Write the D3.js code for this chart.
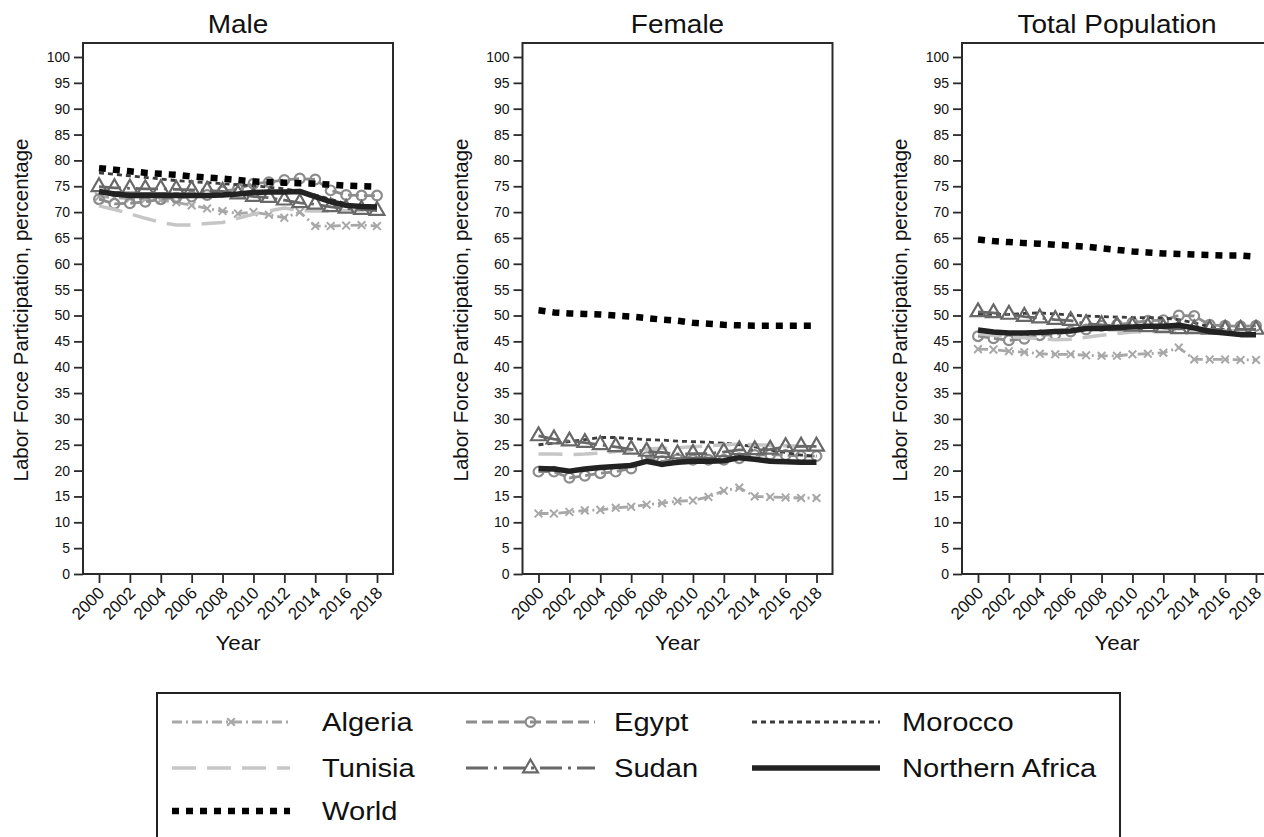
<html lang="en">
<head>
<meta charset="utf-8">
<title>Labor Force Participation</title>
<script src="https://d3js.org/d3.v7.min.js"></script>
<style>
  body { margin: 0; background: #fff; }
  text { font-family: "Liberation Sans", Arial, Helvetica, sans-serif; fill: #111; }
  .tick text { font-size: 14px; }
  .xaxis .tick text { font-size: 17px; }
  .title { font-size: 25px; }
  .label { font-size: 20px; }
  .ylabel { font-size: 20.5px; }
  .legend text { font-size: 26px; }
</style>
</head>
<body>
<script>
// categories / ticks
var years = [2000, 2001, 2002, 2003, 2004, 2005, 2006, 2007, 2008, 2009,
             2010, 2011, 2012, 2013, 2014, 2015, 2016, 2017, 2018];
var xTicks = [2000, 2002, 2004, 2006, 2008, 2010, 2012, 2014, 2016, 2018];
var yTicks = [0, 5, 10, 15, 20, 25, 30, 35, 40, 45, 50, 55, 60, 65, 70, 75, 80, 85, 90, 95, 100];
var panelTitles = ["Male", "Female", "Total Population"];
var yLabel = "Labor Force Participation, percentage";
var xLabel = "Year";

// Male
var maleAlgeria  = [73.0, 72.8, 72.6, 72.5, 72.3, 71.9, 71.3, 70.7, 70.2, 69.7, 70.0, 69.5, 68.9, 70.0, 67.3, 67.3, 67.4, 67.5, 67.3];
var maleEgypt    = [72.5, 71.6, 71.7, 72.0, 72.5, 72.8, 73.0, 73.3, 74.0, 74.5, 75.5, 75.8, 76.2, 76.5, 76.3, 74.2, 73.3, 73.2, 73.2];
var maleMorocco  = [77.6, 77.3, 77.0, 76.7, 76.4, 76.1, 75.9, 75.7, 75.5, 75.3, 75.1, 74.8, 74.5, 74.0, 73.3, 72.5, 71.6, 71.0, 70.6];
var maleTunisia  = [71.2, 70.5, 69.7, 68.8, 68.0, 67.5, 67.5, 67.8, 68.0, 68.8, 69.6, 70.2, 70.8, 70.3, 70.2, 70.2, 70.3, 70.4, 70.5];
var maleSudan    = [74.9, 74.7, 74.6, 74.5, 74.5, 74.4, 74.3, 74.2, 74.0, 73.5, 73.0, 72.8, 72.3, 71.8, 71.5, 71.0, 70.7, 70.5, 70.3];
var maleNAfrica  = [74.0, 73.5, 73.2, 73.2, 73.2, 73.2, 73.2, 73.2, 73.3, 73.5, 73.8, 73.9, 73.9, 74.0, 73.0, 72.0, 71.3, 71.1, 71.0];
var maleWorld    = [78.5, 78.2, 77.9, 77.6, 77.4, 77.2, 76.9, 76.7, 76.5, 76.2, 75.9, 75.8, 75.7, 75.6, 75.5, 75.3, 75.1, 75.0, 74.9];

// Female
var femaleAlgeria = [11.7, 11.7, 12.0, 12.3, 12.4, 12.8, 13.0, 13.4, 13.7, 14.1, 14.2, 14.9, 16.1, 16.7, 15.0, 14.9, 14.8, 14.7, 14.7];
var femaleEgypt   = [19.8, 19.8, 18.6, 19.0, 19.5, 19.8, 20.4, 22.6, 21.8, 22.2, 22.1, 22.1, 22.1, 22.4, 23.0, 23.1, 23.0, 22.8, 22.8];
var femaleMorocco = [25.0, 25.3, 25.6, 26.0, 26.4, 26.4, 26.2, 26.0, 25.9, 25.7, 25.6, 25.5, 25.3, 25.0, 24.6, 24.0, 23.5, 23.0, 22.8];
var femaleTunisia = [23.2, 23.2, 23.1, 23.2, 23.4, 23.7, 24.0, 24.2, 24.3, 24.4, 24.6, 24.8, 25.0, 25.1, 25.0, 24.9, 24.8, 24.7, 24.6];
var femaleSudan   = [26.7, 26.1, 25.7, 25.4, 25.0, 24.6, 24.1, 23.7, 23.5, 23.2, 23.3, 23.3, 23.6, 24.0, 24.0, 24.1, 24.6, 24.7, 24.7];
var femaleNAfrica = [20.4, 20.3, 19.9, 20.3, 20.6, 20.8, 21.0, 21.8, 21.2, 21.6, 21.8, 21.8, 21.9, 22.5, 22.2, 21.8, 21.7, 21.6, 21.6];
var femaleWorld   = [51.0, 50.6, 50.4, 50.3, 50.2, 50.0, 49.8, 49.5, 49.2, 49.0, 48.6, 48.4, 48.2, 48.1, 48.0, 48.0, 48.0, 48.0, 48.0];

// Total population
var totalAlgeria = [43.5, 43.4, 43.1, 42.9, 42.6, 42.5, 42.5, 42.3, 42.2, 42.2, 42.5, 42.6, 42.8, 43.8, 41.5, 41.5, 41.5, 41.4, 41.4];
var totalEgypt   = [46.0, 45.6, 45.2, 45.5, 46.2, 46.3, 46.9, 47.3, 48.0, 48.2, 48.6, 49.0, 49.1, 50.0, 49.9, 48.2, 48.0, 47.9, 48.0];
var totalMorocco = [50.3, 50.2, 50.2, 50.4, 50.5, 50.3, 50.1, 49.9, 49.8, 49.7, 49.6, 49.6, 49.5, 49.2, 48.6, 47.8, 47.2, 46.8, 46.6];
var totalTunisia = [46.5, 46.2, 45.9, 45.7, 45.5, 45.3, 45.4, 45.8, 46.2, 46.5, 46.8, 46.9, 47.0, 47.2, 47.0, 47.0, 47.0, 47.0, 47.0];
var totalSudan   = [50.7, 50.5, 50.2, 49.8, 49.5, 49.2, 49.0, 48.4, 48.2, 48.0, 47.9, 47.8, 47.6, 47.4, 47.4, 47.3, 47.3, 47.3, 47.3];
var totalNAfrica = [47.2, 46.8, 46.6, 46.6, 46.7, 46.9, 47.0, 47.5, 47.5, 47.7, 47.8, 47.9, 47.9, 48.1, 47.6, 46.9, 46.6, 46.3, 46.3];
var totalWorld   = [64.7, 64.4, 64.2, 64.0, 63.9, 63.7, 63.5, 63.3, 63.0, 62.7, 62.4, 62.2, 62.0, 61.9, 61.8, 61.7, 61.6, 61.6, 61.4];

// series styles (drawing order)
var seriesStyle = [
  { name: "Algeria",         color: "#a8a8a8", width: 2.8, dash: "10,4,2,4",  marker: "x" },
  { name: "Egypt",           color: "#8c8c8c", width: 2.8, dash: "11,5",      marker: "circle" },
  { name: "Morocco",         color: "#3c3c3c", width: 2.8, dash: "5,4",       marker: null },
  { name: "Tunisia",         color: "#c6c6c6", width: 3.5, dash: "24,11",     marker: null },
  { name: "Sudan",           color: "#686868", width: 2.8, dash: "22,6,3,6",  marker: "triangle" },
  { name: "Northern Africa", color: "#222222", width: 5.5, dash: null,        marker: null },
  { name: "World",           color: "#000000", width: 6.5, dash: "7,7",       marker: null }
];

var panels = [
  { title: panelTitles[0], values: [maleAlgeria, maleEgypt, maleMorocco, maleTunisia, maleSudan, maleNAfrica, maleWorld] },
  { title: panelTitles[1], values: [femaleAlgeria, femaleEgypt, femaleMorocco, femaleTunisia, femaleSudan, femaleNAfrica, femaleWorld] },
  { title: panelTitles[2], values: [totalAlgeria, totalEgypt, totalMorocco, totalTunisia, totalSudan, totalNAfrica, totalWorld] }
];

var W = 1264, H = 837;
var svg = d3.select("body").append("svg")
  .attr("width", W)
  .attr("height", H);

var frameTop = 43, frameBottom = 574, frameW = 310;
var sx = 1.12; // the original text is a bit wide

var y = d3.scaleLinear().domain([0, 100]).range([574, 57]);

function markerPath(type) {
  if (type == "circle") return d3.symbol(d3.symbolCircle, 75)();
  if (type == "triangle") return d3.symbol(d3.symbolTriangle, 95)();
  if (type == "x") return d3.symbol(d3.symbolX, 40)();
  return null;
}

panels.forEach(function(p, i) {
  var left = 83 + i * 439.5;
  var g = svg.append("g");

  var x = d3.scaleLinear().domain([2000, 2018]).range([left + 16, left + 294]);

  // frame
  g.append("rect")
    .attr("x", left).attr("y", frameTop)
    .attr("width", frameW).attr("height", frameBottom - frameTop)
    .attr("fill", "none").attr("stroke", "#2a2a2a").attr("stroke-width", 2);

  // y axis
  var ya = g.append("g")
    .attr("transform", "translate(" + left + ",0)")
    .call(d3.axisLeft(y).tickValues(yTicks).tickSize(9).tickPadding(4).tickSizeOuter(0));
  ya.select(".domain").remove();
  ya.selectAll(".tick line").attr("stroke", "#2a2a2a").attr("stroke-width", 1.8);

  // x axis
  var xa = g.append("g")
    .attr("class", "xaxis")
    .attr("transform", "translate(0," + frameBottom + ")")
    .call(d3.axisBottom(x).tickValues(xTicks).tickSize(9).tickSizeOuter(0).tickFormat(d3.format("d")));
  xa.select(".domain").remove();
  xa.selectAll(".tick line").attr("stroke", "#2a2a2a").attr("stroke-width", 1.8);
  xa.selectAll(".tick text")
    .attr("y", 0).attr("dy", 0)
    .attr("transform", "translate(6,20) rotate(-45)")
    .style("text-anchor", "end");

  // titles and labels
  g.append("text").attr("class", "title")
    .attr("transform", "translate(" + (left + frameW / 2) + ",33) scale(" + sx + ",1)")
    .style("text-anchor", "middle").text(p.title);

  g.append("text").attr("class", "label")
    .attr("transform", "translate(" + (left + frameW / 2) + ",650) scale(" + sx + ",1)")
    .style("text-anchor", "middle").text(xLabel);

  g.append("text").attr("class", "ylabel")
    .attr("transform", "translate(" + (left - 55) + "," + 310 + ") rotate(-90)")
    .style("text-anchor", "middle").text(yLabel);

  // lines
  var line = d3.line()
    .x(function(d, k) { return x(years[k]); })
    .y(function(d) { return y(d); });

  seriesStyle.forEach(function(s, j) {
    var vals = p.values[j];
    g.append("path")
      .datum(vals)
      .attr("d", line)
      .attr("fill", "none")
      .attr("stroke", s.color)
      .attr("stroke-width", s.width)
      .attr("stroke-dasharray", s.dash)
      .attr("stroke-linejoin", "round");

    if (s.marker) {
      g.selectAll(null)
        .data(vals)
        .enter()
        .append("path")
        .attr("d", markerPath(s.marker))
        .attr("transform", function(d, k) { return "translate(" + x(years[k]) + "," + y(d) + ")"; })
        .attr("fill", "none")
        .attr("stroke", s.color)
        .attr("stroke-width", s.marker == "x" ? 2 : 2.2);
    }
  });
});

// legend
var legend = svg.append("g").attr("class", "legend");
legend.append("rect")
  .attr("x", 157).attr("y", 693)
  .attr("width", 963).attr("height", 170)
  .attr("fill", "none").attr("stroke", "#222").attr("stroke-width", 2);

var legRows = [722, 768, 811];
var legCols = [{ x0: 172, x1: 290, tx: 322 }, { x0: 466, x1: 595, tx: 614 }, { x0: 752, x1: 880, tx: 902 }];
var legOrder = ["Algeria", "Egypt", "Morocco", "Tunisia", "Sudan", "Northern Africa", "World"];

legOrder.forEach(function(name, k) {
  var s = seriesStyle.filter(function(d) { return d.name == name; })[0];
  var c = legCols[k % 3], ry = legRows[Math.floor(k / 3)];
  legend.append("line")
    .attr("x1", c.x0).attr("x2", c.x1)
    .attr("y1", ry).attr("y2", ry)
    .attr("stroke", s.color)
    .attr("stroke-width", s.width)
    .attr("stroke-dasharray", s.dash);
  if (s.marker) {
    legend.append("path")
      .attr("d", markerPath(s.marker))
      .attr("transform", "translate(" + (c.x0 + c.x1) / 2 + "," + ry + ")")
      .attr("fill", "none")
      .attr("stroke", s.color)
      .attr("stroke-width", 2.2);
  }
  legend.append("text")
    .attr("transform", "translate(" + c.tx + "," + (ry + 9) + ") scale(" + sx + ",1)")
    .text(name);
});
</script>
</body>
</html>
